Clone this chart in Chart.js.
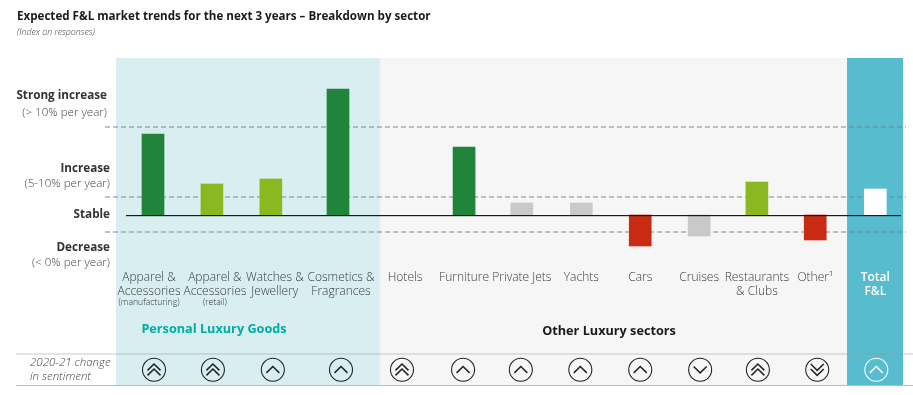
<!DOCTYPE html>
<html><head><meta charset="utf-8">
<style>html,body{margin:0;padding:0;background:#fff}canvas{display:block}</style>
<script src="https://cdn.jsdelivr.net/npm/chart.js@4"></script>
</head><body>
<canvas id="c" width="913" height="395"></canvas>
<script>
const categories = [["Apparel &","Accessories"],["Apparel &","Accessories"],["Watches &","Jewellery"],["Cosmetics &","Fragrances"],["Hotels"],["Furniture"],["Private Jets"],["Yachts"],["Cars"],["Cruises"],["Restaurants","& Clubs"],["Other¹"],["Total","F&L"]];
const subLabels = ["(manufacturing)","(retail)","","","","","","","","","","",""];
const indexValues = [81,31,36,126,null,68,12,12,-31,-21,33,-25,26];
const sentiment = [2,2,1,1,2,1,1,1,1,-1,2,-2,1];
const columns = [0,1,2,3.14,4.26,5.28,6.26,7.27,8.27,9.27,10.25,11.24,12.26];
const barTones = ["#20853a","#8ab821","#8ab821","#20853a","#20853a","#20853a","#cbc8c8","#cbc8c8","#c92a14","#cbc8c8","#8ab821","#c92a14","#ffffff"];
const thresholds = [88,18,-17];
const labelShift = [-4,3,4,3,1,0,0,0,0,0,0,0,0];
const iconShift = [1,1,2,3,-2,-1,-1,-1,0,1,1,2,1];

const LIGHT = "300 12px 'Open Sans'", BOLD = "700 11.7px 'Open Sans'";
function text(ctx,s,x,y,font,color,align){ctx.font=font;ctx.fillStyle=color;ctx.textAlign=align||"left";ctx.textBaseline="middle";ctx.fillText(s,x,y);}
function chevron(ctx,cx,cy,dir){ctx.beginPath();ctx.moveTo(cx-6.5,cy+3.2*dir);ctx.lineTo(cx,cy-3.2*dir);ctx.lineTo(cx+6.5,cy+3.2*dir);ctx.stroke();}

const pagePlugin = {
  id:"page",
  beforeDatasetsDraw(chart){
    const {ctx,chartArea:a,scales:{x,y}}=chart;
    ctx.save();
    const bands=[[x.min,3.854,"#d9eef1"],[3.854,11.78,"#f6f6f6"],[11.78,x.max,"#58bccf"]];
    bands.forEach(([f,t,c])=>{ctx.fillStyle=c;const l=x.getPixelForValue(f),r=x.getPixelForValue(t);ctx.fillRect(l,a.top,r-l,a.bottom-a.top);});
    ctx.strokeStyle="rgba(125,125,125,.62)";ctx.lineWidth=1.5;ctx.setLineDash([5,3]);
    thresholds.forEach(v=>{const p=y.getPixelForValue(v);ctx.beginPath();ctx.moveTo(105,p);ctx.lineTo(906,p);ctx.stroke();});
    ctx.setLineDash([]);
    ctx.fillStyle="rgba(150,150,150,.25)";ctx.fillRect(16,353,897,2);
    ctx.fillStyle="#bcbcbc";ctx.fillRect(16,385,897,1);
    ctx.restore();
  },
  afterDatasetsDraw(chart){
    const {ctx,scales:{x,y}}=chart;
    ctx.save();
    const z=y.getPixelForValue(0);
    ctx.fillStyle="#1a1a1a";ctx.fillRect(126,z,775,1.2);
    text(ctx,"Expected F&L market trends for the next 3 years – Breakdown by sector",17,17,"700 11.6px 'Open Sans'","#1a1a1a");
    text(ctx,"(Index on responses)",17,32.5,"italic 300 8.8px 'Open Sans'","#444");
    const SUB="300 11.6px 'Open Sans'";
    [["Strong increase",107,96,1],["(> 10% per year)",107,113,0],["Increase",110,169,1],["(5-10% per year)",110,184,0],["Stable",110,215,1],["Decrease",110,248,1],["(< 0% per year)",110,263,0]]
      .forEach(([s,px,py,b])=>text(ctx,s,px,py,b?BOLD:SUB,b?"#333":"#444","right"));
    text(ctx,"2020-21 change",30,363,"italic 300 11.5px 'Open Sans'","#444");
    text(ctx,"in sentiment",30,377,"italic 300 11.5px 'Open Sans'","#444");
    categories.forEach((lines,i)=>{
      const cx=x.getPixelForValue(columns[i]);
      const last=i===categories.length-1;
      lines.forEach((l,k)=>text(ctx,l,cx+labelShift[i],277.5+k*14.5,last?"600 12px 'Open Sans'":LIGHT,last?"#fff":"#3a3a3a","center"));
      if(subLabels[i])text(ctx,subLabels[i],cx+labelShift[i],303,"300 8.6px 'Open Sans'","#333","center");
      const ix=cx+iconShift[i],cy=369.7,col=last?"#fff":"#222";
      ctx.strokeStyle=col;ctx.lineWidth=1.1;ctx.beginPath();ctx.arc(ix,cy,11.5,0,Math.PI*2);ctx.stroke();
      const s=sentiment[i],d=s>0?1:-1;ctx.lineWidth=1.5;
      if(Math.abs(s)===1)chevron(ctx,ix,cy,d);else{chevron(ctx,ix,cy-2.5*d,d);chevron(ctx,ix,cy+2.5*d,d);}
    });
    text(ctx,"Personal Luxury Goods",214,329,"700 12.7px 'Open Sans'","#00aca6","center");
    text(ctx,"Other Luxury sectors",609,331,"700 12.7px 'Open Sans'","#1a1a1a","center");
    ctx.restore();
  }
};

new Chart(document.getElementById("c"),{
  type:"bar",
  data:{datasets:[{
    data:indexValues.map((v,i)=>({x:columns[i],y:v})),
    backgroundColor:barTones,
    barThickness:22,
    borderWidth:0
  }]},
  options:{
    responsive:false,animation:false,
    layout:{padding:{left:116,right:10,top:58,bottom:10}},
    plugins:{legend:{display:false},tooltip:{enabled:false}},
    scales:{
      x:{type:"linear",display:false,offset:false,min:-0.628,max:12.73,grid:{display:false}},
      y:{type:"linear",display:false,min:-170,max:157,grid:{display:false}}
    }
  },
  plugins:[pagePlugin]
});
</script>
</body></html>
